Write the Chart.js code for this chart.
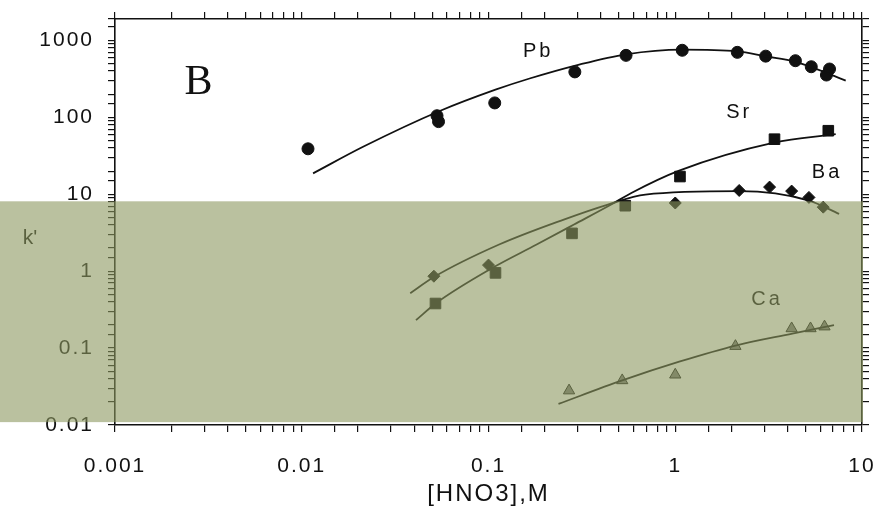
<!DOCTYPE html>
<html>
<head>
<meta charset="utf-8">
<script src="https://cdn.jsdelivr.net/npm/chart.js@4.4.1/dist/chart.umd.min.js"></script>
<style>
  html, body { margin: 0; background: #fff; }
  #wrap { width: 890px; height: 509px; }
</style>
</head>
<body>
<div id="wrap"><canvas id="myChart"></canvas></div>
<script>
const pbX = [0.0108, 0.053, 0.054, 0.108, 0.29, 0.545, 1.09, 2.15, 3.05, 4.4, 5.35, 6.7, 6.45];
const pbY = [39, 105, 88, 154, 390, 640, 745, 700, 625, 545, 455, 425, 355];
const srX = [0.052, 0.109, 0.28, 0.54, 1.06, 3.4, 6.6];
const srY = [0.38, 0.95, 3.1, 7.1, 17, 52, 67];
const baX = [0.051, 0.1, 1.0, 2.2, 3.2, 4.2, 5.2, 6.2];
const baY = [0.86, 1.2, 7.7, 11.2, 12.4, 11, 9.1, 6.8];
const caX = [0.27, 0.52, 1.0, 2.1, 4.2, 5.3, 6.3];
const caY = [0.028, 0.038, 0.045, 0.106, 0.18, 0.18, 0.19];

// fitted curves
const pbFitX = [0.0115, 0.0213, 0.0544, 0.109, 0.166, 0.299, 0.545, 1.086, 2.15, 3.05, 4.42, 8.18];
const pbFitY = [18.7, 41.4, 120, 229, 320, 478, 661, 760, 723, 623, 527, 301];
const srFitX = [0.0409, 0.0523, 0.1047, 0.181, 0.287, 0.454, 0.582, 1.05, 3.38, 7.23];
const srFitY = [0.231, 0.383, 1.1, 2.22, 4.04, 7.35, 10.4, 20.3, 46.9, 60.7];
const baFitX = [0.0381, 0.0508, 0.114, 0.253, 0.436, 0.692, 2.2, 5.2, 7.54];
const baFitY = [0.518, 0.834, 2.22, 4.69, 7.35, 9.9, 10.96, 8.28, 5.55];
const caFitX = [0.237, 0.52, 1.05, 2.13, 4.24, 7.08];
const caFitY = [0.0188, 0.038, 0.0665, 0.1086, 0.154, 0.199];

// series names and where they sit on the plot
const seriesNames = ['Pb', 'Sr', 'Ba', 'Ca'];
const nameX = [0.1845, 2.2, 6.5, 3.1];
const nameY = [729, 115, 19.2, 0.428];

const xTicks = [0.001, 0.01, 0.1, 1, 10];
const yTicks = [0.01, 0.1, 1, 10, 100, 1000];

const ink = '#111';
const font = 'Liberation Sans, Arial, sans-serif';

function pairs(xs, ys) {
    return xs.map((x, i) => ({ x: x, y: ys[i] }));
}

function decadeLabel(list) {
    return function (value) {
        const v = Number(value.toPrecision(6));
        return list.includes(v) ? String(v) : '';
    };
}

function pointSet(xs, ys, style, radius, fill) {
    return {
        data: pairs(xs, ys),
        showLine: false,
        pointStyle: style,
        pointRadius: radius,
        pointBackgroundColor: fill,
        pointBorderColor: ink,
        pointBorderWidth: 1
    };
}

function fitSet(xs, ys) {
    return {
        data: pairs(xs, ys),
        showLine: true,
        borderColor: ink,
        borderWidth: 1.8,
        pointRadius: 0,
        cubicInterpolationMode: 'monotone',
        fill: false
    };
}

// drop the label overhang so the plot box matches the scan
function noOverhang(s) {
    s.paddingLeft = 0;
    s.paddingRight = 0;
    s.paddingTop = 0;
    s.paddingBottom = 0;
}

const spacing = {
    id: 'spacing',
    beforeLayout(chart) { chart.ctx.letterSpacing = '2px'; },
    beforeDraw(chart) { chart.ctx.letterSpacing = '2px'; }
};

const annotations = {
    id: 'annotations',
    afterDatasetsDraw(chart) {
        const ctx = chart.ctx;
        const xs = chart.scales.x;
        const ys = chart.scales.y;
        ctx.save();
        ctx.fillStyle = ink;
        ctx.textAlign = 'center';
        ctx.textBaseline = 'middle';
        ctx.letterSpacing = '3px';
        ctx.font = '20px ' + font;
        seriesNames.forEach((name, i) => {
            ctx.fillText(name, xs.getPixelForValue(nameX[i]), ys.getPixelForValue(nameY[i]));
        });
        ctx.letterSpacing = '0px';
        ctx.font = '42px Liberation Serif, Times New Roman, serif';
        ctx.fillText('B', xs.getPixelForValue(0.0028), ys.getPixelForValue(281));
        ctx.font = '21px ' + font;
        ctx.fillText("k'", 30, ys.getPixelForValue(2.7));
        ctx.restore();
    },
    afterDraw(chart) {
        // olive highlight band over the lower part of the figure
        const ctx = chart.ctx;
        const xs = chart.scales.x;
        const ys = chart.scales.y;
        const top = ys.getPixelForValue(8.1);
        const bottom = ys.getPixelForValue(0.0109);
        ctx.save();
        ctx.fillStyle = 'rgba(140,152,95,0.6)';
        ctx.fillRect(0, top, xs.getPixelForValue(10) + 1, bottom - top);
        ctx.restore();
    }
};

const axisGrid = {
    drawOnChartArea: false,
    drawTicks: true,
    tickLength: 7,
    color: ink,
    lineWidth: 1.2
};
const axisBorder = { display: true, color: ink, width: 1.6 };

new Chart('myChart', {
    type: 'scatter',
    data: {
        datasets: [
            fitSet(pbFitX, pbFitY),
            fitSet(srFitX, srFitY),
            fitSet(baFitX, baFitY),
            fitSet(caFitX, caFitY),
            pointSet(pbX, pbY, 'circle', 6, ink),
            pointSet(srX, srY, 'rect', 7.5, ink),
            pointSet(baX, baY, 'rectRot', 6, ink),
            pointSet(caX, caY, 'triangle', 6.5, '#777')
        ]
    },
    options: {
        responsive: true,
        maintainAspectRatio: false,
        animation: false,
        layout: { padding: 0 },
        plugins: {
            legend: { display: false },
            tooltip: { enabled: false }
        },
        scales: {
            x: {
                type: 'logarithmic',
                position: 'bottom',
                min: 0.001,
                max: 10,
                border: axisBorder,
                grid: axisGrid,
                ticks: {
                    autoSkip: false,
                    maxRotation: 0,
                    padding: 22,
                    color: ink,
                    font: { family: font, size: 21 },
                    callback: decadeLabel(xTicks)
                },
                title: {
                    display: true,
                    text: '[HNO3],M',
                    color: ink,
                    font: { family: font, size: 24 },
                    padding: { top: 0, bottom: 0 }
                },
                afterFit: s => { s.height = 84; noOverhang(s); }
            },
            x2: {
                type: 'logarithmic',
                position: 'top',
                min: 0.001,
                max: 10,
                border: axisBorder,
                grid: axisGrid,
                ticks: { display: false, autoSkip: false },
                afterFit: s => { s.height = 19; noOverhang(s); }
            },
            y: {
                type: 'logarithmic',
                position: 'left',
                min: 0.01,
                max: 1900,
                border: axisBorder,
                grid: axisGrid,
                ticks: {
                    autoSkip: false,
                    padding: 14,
                    color: ink,
                    font: { family: font, size: 21 },
                    callback: decadeLabel(yTicks)
                },
                afterFit: s => { s.width = 115; noOverhang(s); }
            },
            y2: {
                type: 'logarithmic',
                position: 'right',
                min: 0.01,
                max: 1900,
                border: axisBorder,
                grid: axisGrid,
                ticks: { display: false, autoSkip: false },
                afterFit: s => { s.width = 28; noOverhang(s); }
            }
        }
    },
    plugins: [spacing, annotations]
});
</script>
</body>
</html>
